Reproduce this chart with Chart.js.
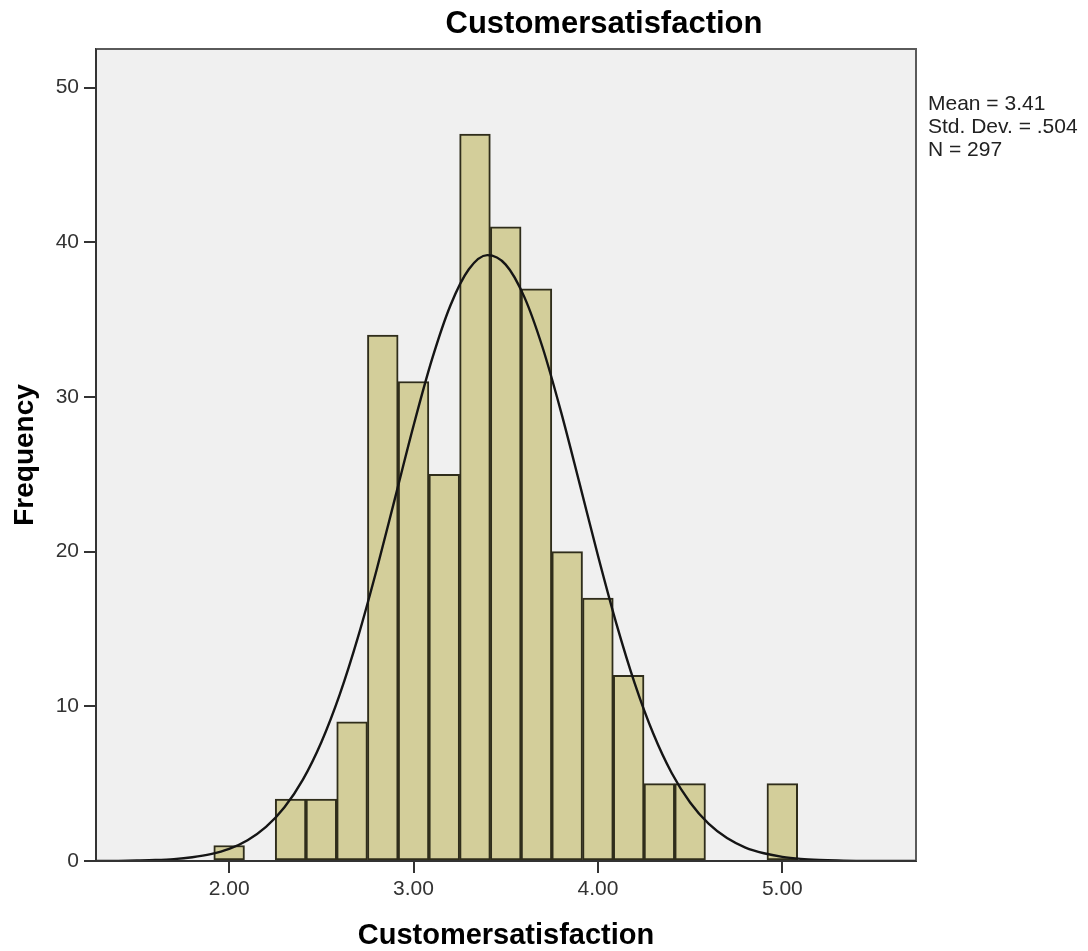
<!DOCTYPE html>
<html>
<head>
<meta charset="utf-8">
<script src="https://cdn.jsdelivr.net/npm/chart.js@4.4.1/dist/chart.umd.min.js"></script>
<style>
  html, body { margin: 0; padding: 0; background: #ffffff; }
  canvas { display: block; }
</style>
</head>
<body>
<canvas id="c" width="1088" height="951"></canvas>
<script>
// ---- data ----
const chartTitle = "Customersatisfaction";
const xAxisTitle = "Customersatisfaction";
const yAxisTitle = "Frequency";
const statsLines = ["Mean = 3.41", "Std. Dev. = .504", "N = 297"];

// histogram bin centres (bin width 1/6)
const binCenters = [2.0, 2.1667, 2.3333, 2.5, 2.6667, 2.8333, 3.0, 3.1667, 3.3333,
                    3.5, 3.6667, 3.8333, 4.0, 4.1667, 4.3333, 4.5, 4.6667, 4.8333, 5.0];
const frequencies = [1, 0, 4, 4, 9, 34, 31, 25, 47, 41, 37, 20, 17, 12, 5, 5, 0, 0, 5];

// normal curve, values
const curveX = [1.28, 1.4, 1.5, 1.6, 1.7, 1.8, 1.9, 2.0, 2.1, 2.2, 2.3, 2.4, 2.5, 2.6, 2.7, 2.8, 2.9,
                3.0, 3.1, 3.2, 3.3, 3.4, 3.5, 3.6, 3.7, 3.8, 3.9, 4.0, 4.1, 4.2, 4.3, 4.4, 4.5,
                4.6, 4.7, 4.8, 4.9, 5.0, 5.1, 5.2, 5.3, 5.4, 5.5, 5.6, 5.72];
const curveY = [0.0, 0.01, 0.03, 0.06, 0.12, 0.24, 0.44, 0.78, 1.34, 2.2, 3.47, 5.26, 7.68, 10.77, 14.52,
                18.83, 23.48, 28.14, 32.43, 35.92, 38.26, 39.17, 38.56, 36.49, 33.2, 29.04, 24.43,
                19.75, 15.35, 11.47, 8.24, 5.69, 3.78, 2.41, 1.48, 0.87, 0.5, 0.27, 0.14, 0.07,
                0.03, 0.01, 0.01, 0.0, 0.0];

const xTickValues = [2, 3, 4, 5];
const xTickLabels = ["2.00", "3.00", "4.00", "5.00"];
const yTickValues = [0, 10, 20, 30, 40, 50];
const xMin = 1.278, xMax = 5.725;
const yMin = 0, yMax = 52.5;

// ---- plugins ----
const frame = {
  id: 'frame',
  beforeDraw(chart) {
    const {ctx, chartArea: a} = chart;
    ctx.save();
    ctx.fillStyle = '#ffffff';
    ctx.fillRect(0, 0, chart.width, chart.height);
    ctx.fillStyle = '#f0f0f0';
    ctx.fillRect(a.left, a.top, a.right - a.left, a.bottom - a.top);
    ctx.restore();
  },
  afterDraw(chart) {
    const {ctx, chartArea: a} = chart;
    ctx.save();
    ctx.strokeStyle = '#5a5a5a';
    ctx.lineWidth = 2;
    ctx.beginPath();
    ctx.moveTo(a.left, a.top);
    ctx.lineTo(a.right, a.top);
    ctx.lineTo(a.right, a.bottom);
    ctx.stroke();
    ctx.strokeStyle = '#333333';
    ctx.beginPath();
    ctx.moveTo(a.left, a.top);
    ctx.lineTo(a.left, a.bottom);
    ctx.lineTo(a.right, a.bottom);
    ctx.stroke();
    // title
    ctx.fillStyle = '#000000';
    ctx.font = 'bold 31px "Liberation Sans", Arial, sans-serif';
    ctx.textAlign = 'center';
    ctx.textBaseline = 'middle';
    ctx.fillText(chartTitle, 604, 24);
    // stats
    ctx.fillStyle = '#222222';
    ctx.font = '21px "Liberation Sans", Arial, sans-serif';
    ctx.textAlign = 'left';
    statsLines.forEach((t, i) => ctx.fillText(t, 928, 104 + i * 23));
    ctx.restore();
  }
};

new Chart(document.getElementById('c'), {
  type: 'bar',
  data: {
    datasets: [
      {
        type: 'line',
        data: curveX.map((x, i) => ({x: x, y: curveY[i]})),
        borderColor: '#151515',
        borderWidth: 2.4,
        pointRadius: 0,
        fill: false,
        cubicInterpolationMode: 'monotone',
        order: 0
      },
      {
        type: 'bar',
        data: binCenters.map((x, i) => ({x: x, y: frequencies[i]})),
        backgroundColor: '#d3ce9a',
        borderColor: '#2f2d1b',
        borderWidth: 2,
        borderSkipped: false,
        barPercentage: 1,
        categoryPercentage: 1,
        grouped: false,
        order: 1
      }
    ]
  },
  options: {
    responsive: false,
    animation: false,
    devicePixelRatio: 1,
    layout: { padding: { left: 0, right: 172, top: 49, bottom: 0 } },
    plugins: {
      legend: { display: false },
      title: { display: false },
      tooltip: { enabled: false }
    },
    scales: {
      x: {
        type: 'linear',
        min: xMin,
        max: xMax,
        offset: false,
        afterFit(s) { s.height = 90; },
        afterBuildTicks(s) { s.ticks = xTickValues.map(v => ({value: v})); },
        ticks: {
          autoSkip: false,
          maxRotation: 0,
          padding: 4,
          color: '#333333',
          font: { family: '"Liberation Sans", Arial, sans-serif', size: 21 },
          callback(v) { const i = xTickValues.indexOf(v); return i >= 0 ? xTickLabels[i] : ''; }
        },
        grid: { display: true, offset: false, drawOnChartArea: false, drawTicks: true, tickLength: 12, lineWidth: 2, color: '#333333' },
        border: { display: true, color: '#333333', width: 2 },
        title: {
          display: true,
          text: xAxisTitle,
          color: '#000000',
          font: { family: '"Liberation Sans", Arial, sans-serif', size: 29, weight: 'bold', lineHeight: 1 },
          padding: { top: 0, bottom: 1 }
        }
      },
      y: {
        type: 'linear',
        min: yMin,
        max: yMax,
        afterFit(s) { s.width = 96; },
        afterBuildTicks(s) { s.ticks = yTickValues.map(v => ({value: v})); },
        ticks: {
          padding: 5,
          color: '#333333',
          font: { family: '"Liberation Sans", Arial, sans-serif', size: 21 }
        },
        grid: { display: true, offset: false, drawOnChartArea: false, drawTicks: true, tickLength: 12, lineWidth: 2, color: '#333333' },
        border: { display: true, color: '#333333', width: 2 },
        title: {
          display: true,
          text: yAxisTitle,
          color: '#000000',
          font: { family: '"Liberation Sans", Arial, sans-serif', size: 28, weight: 'bold', lineHeight: 1 },
          padding: { top: 11, bottom: 0 }
        }
      }
    }
  },
  plugins: [frame]
});
</script>
</body>
</html>
